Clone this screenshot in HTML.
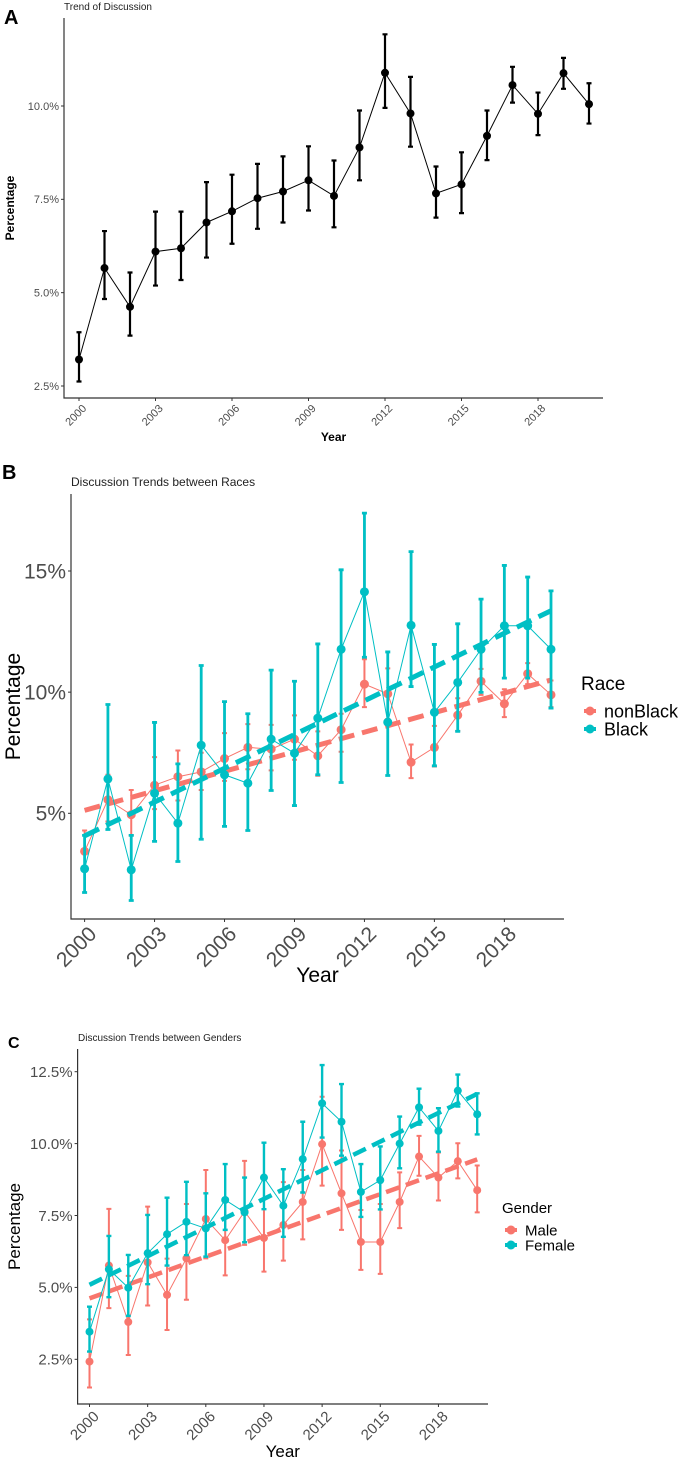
<!DOCTYPE html>
<html><head><meta charset="utf-8">
<style>
html,body{margin:0;padding:0;background:#fff;}
svg{display:block;font-family:"Liberation Sans",sans-serif;}
</style></head>
<body>
<svg id="chart" width="688" height="1459" viewBox="0 0 688 1459" xmlns="http://www.w3.org/2000/svg"></svg>
<script>
// ---------- Data ----------
const years = [2000,2001,2002,2003,2004,2005,2006,2007,2008,2009,2010,2011,2012,2013,2014,2015,2016,2017,2018,2019,2020];
const tickYears = [2000,2003,2006,2009,2012,2015,2018];

// Panel A
const allValues = [3.21,5.66,4.62,6.10,6.19,6.88,7.18,7.53,7.71,8.01,7.59,8.89,10.89,9.80,7.66,7.90,9.20,10.56,9.79,10.88,10.05];
const allUpper  = [3.94,6.65,5.54,7.17,7.17,7.96,8.16,8.45,8.65,8.92,8.54,9.88,11.92,10.78,8.38,8.76,9.88,11.05,10.36,11.29,10.61];
const allLower  = [2.62,4.83,3.85,5.19,5.34,5.94,6.31,6.71,6.88,7.20,6.75,8.01,9.95,8.91,7.01,7.13,8.55,10.09,9.22,10.46,9.53];
const aTicks = [2.5,5.0,7.5,10.0];
const aTickLabels = ["2.5%","5.0%","7.5%","10.0%"];

// Panel B
const nonBlackValues = [3.43,5.56,4.94,6.16,6.51,6.71,7.26,7.72,7.65,8.06,7.37,8.45,10.33,9.93,7.11,7.72,9.05,10.45,9.52,10.76,9.89];
const nonBlackUpper  = [4.29,6.59,5.96,7.32,7.59,7.50,8.31,8.68,8.65,9.04,8.38,9.11,11.36,10.98,7.84,8.61,9.75,10.96,10.12,11.20,10.48];
const nonBlackLower  = [2.67,4.66,4.09,5.17,5.53,5.96,6.34,6.82,6.77,7.21,6.55,7.54,9.38,8.89,6.45,6.93,8.40,9.89,8.97,10.33,9.38];
const blackValues = [2.71,6.42,2.67,5.83,4.59,7.81,6.59,6.24,8.06,7.48,8.93,11.77,14.14,8.76,12.76,9.17,10.40,11.77,12.74,12.74,11.77];
const blackUpper  = [4.09,9.49,4.09,8.75,7.04,11.10,9.61,9.11,10.91,10.45,11.99,15.05,17.39,11.66,15.80,11.97,12.82,13.84,15.23,14.75,14.18];
const blackLower  = [1.73,4.33,1.40,3.84,3.01,3.93,4.46,4.29,5.94,5.32,6.59,6.27,11.44,6.56,10.23,6.96,8.38,9.99,10.58,10.58,9.34];
const nonBlackTrend = [5.12,10.50];
const blackTrend = [4.07,13.36];
const bTicks = [5,10,15];
const bTickLabels = ["5%","10%","15%"];

// Panel C
const maleValues = [2.42,5.76,3.80,5.87,4.74,6.01,7.38,6.64,7.64,6.72,7.17,7.97,9.98,8.27,6.58,6.58,7.97,9.55,8.82,9.39,8.38];
const maleUpper  = [3.89,7.73,5.40,7.81,6.00,7.90,9.08,8.10,9.40,8.08,8.66,9.08,11.63,9.76,7.69,7.90,9.00,10.27,9.69,10.01,9.24];
const maleLower  = [1.52,4.28,2.65,4.37,3.52,4.57,6.01,5.42,6.48,5.55,5.93,6.67,8.54,7.00,5.61,5.47,7.06,8.88,8.02,8.79,7.61];
const femaleValues = [3.46,5.63,4.99,6.19,6.85,7.28,7.05,8.04,7.61,8.82,7.84,9.46,11.40,10.76,8.32,8.73,10.00,11.26,10.44,11.84,11.02];
const femaleUpper  = [4.33,6.79,6.13,7.52,8.12,8.67,8.27,9.29,8.82,10.03,9.11,10.76,12.73,12.07,9.29,9.90,10.94,11.91,11.23,12.40,11.75];
const femaleLower  = [2.77,4.66,4.01,5.11,5.76,6.12,6.07,7.00,6.57,7.72,6.76,8.30,10.21,9.58,7.45,7.71,9.14,10.66,9.72,11.29,10.32];
const maleTrend = [4.62,9.45];
const femaleTrend = [5.09,11.73];
const cTicks = [2.5,5.0,7.5,10.0,12.5];
const cTickLabels = ["2.5%","5.0%","7.5%","10.0%","12.5%"];

const RED = "#F8766D", TEAL = "#00BFC4";
const NS = "http://www.w3.org/2000/svg";
const svg = document.getElementById('chart');
function mk(tag, attrs, parent){
  const e = document.createElementNS(NS, tag);
  for (const k in attrs) e.setAttribute(k, attrs[k]);
  (parent||svg).appendChild(e);
  return e;
}
function scale(d0,d1,r0,r1){ return v => r0 + (v-d0)*(r1-r0)/(d1-d0); }

function drawPanel(p){
  const g = mk('g', {});
  
  
  const x = scale(2000, 2020, p.x0, p.x20);
  const y = scale(p.yv0, p.yv1, p.yp0, p.yp1);
  const L = mk('text', {x:p.letterX, y:p.letterY, 'font-size':p.letterSize, 'font-weight':'bold', fill:'#000'}, g);
  L.textContent = p.letter;
  
  
  const T = mk('text', {x:p.titleX, y:p.titleY, 'font-size':p.titleSize, fill:'#222'}, g);
  T.textContent = p.title;
  
  
  const ax = mk('path', {d:`M${p.left},${p.top}V${p.bottom}H${p.right}`, stroke:'#333', 'stroke-width':1.2, fill:'none'}, g);
  
  
  p.yTicks.forEach((v,i)=>{
    const yy = y(v);
    mk('line', {x1:p.left-3, x2:p.left, y1:yy, y2:yy, stroke:'#333', 'stroke-width':1}, g);
    const t = mk('text', {x:p.left-5, y:yy + p.tickSize*0.35, 'font-size':p.tickSize, fill:'#4d4d4d', 'text-anchor':'end'}, g);
    t.textContent = p.yLabels[i];
    
    
  });
  tickYears.forEach(yr=>{
    const xx = x(yr);
    mk('line', {x1:xx, x2:xx, y1:p.bottom, y2:p.bottom+3, stroke:'#333', 'stroke-width':1}, g);
    const ty = p.bottom + 6;
    const t = mk('text', {x:xx+3, y:ty, 'font-size':p.tickSize, fill:'#4d4d4d', 'text-anchor':'end',
      'dominant-baseline':'hanging', transform:`rotate(-45 ${xx+3} ${ty})`}, g);
    t.textContent = yr;
    
    
  });
  const xt = mk('text', {x:p.xTitleX || (p.left+p.right)/2, y:p.xTitleY, 'font-size':p.axisTitleSize, 'font-weight':p.axisBold?'bold':'normal', 'text-anchor':'middle', fill:'#000'}, g);
  xt.textContent = 'Year';
  
  
  const ycy = (p.top+p.bottom)/2;
  const yt = mk('text', {x:p.yTitleX, y:ycy, 'font-size':p.axisTitleSize, 'font-weight':p.axisBold?'bold':'normal', 'text-anchor':'middle', fill:'#000', transform:`rotate(-90 ${p.yTitleX} ${ycy})`}, g);
  yt.textContent = 'Percentage';
  
  
  p.series.forEach(s=>{
    const sg = mk('g', {}, g);
    
    
    const pts = s.values.map((v,i)=>`${x(years[i])},${y(v)}`).join(' ');
    const pl = mk('polyline', {points:pts, fill:'none', stroke:s.color, 'stroke-width':1}, sg);
    
    
    s.values.forEach((v,i)=>{
      const xx = x(years[i]);
      const eb = mk('path', {d:`M${xx-2.5},${y(s.upper[i])}H${xx+2.5}M${xx},${y(s.upper[i])}V${y(s.lower[i])}M${xx-2.5},${y(s.lower[i])}H${xx+2.5}`,
        stroke:s.color, 'stroke-width':s.ebw, fill:'none'}, sg);
      
      
    });
    s.values.forEach((v,i)=>{
      const c = mk('circle', {cx:x(years[i]), cy:y(v), r:s.r, fill:s.color}, sg);
      
      
    });
    if (s.trend){
      const tl = mk('line', {x1:x(2000), y1:y(s.trend[0]), x2:x(2020), y2:y(s.trend[1]), stroke:s.color, 'stroke-width':p.trendW, 'stroke-dasharray':p.dash}, sg);
      
      
    }
  });
  if (p.legend){
    const lg = mk('g', {}, g);
    
    
    const lt = mk('text', {x:p.legend.x, y:p.legend.y, 'font-size':p.legend.titleSize, fill:'#000'}, lg);
    lt.textContent = p.legend.title;
    
    
    p.series.forEach((s,i)=>{
      const ey = p.legend.y + p.legend.first + i*p.legend.step;
      const kx = p.legend.x + 9;
      const e = mk('g', {}, lg);
      
      
      mk('line', {x1:kx-6, x2:kx+6, y1:ey, y2:ey, stroke:s.color, 'stroke-width':4}, e);
      mk('circle', {cx:kx, cy:ey, r:4.5, fill:s.color}, e);
      const et = mk('text', {x:kx+14, y:ey + p.legend.labelSize*0.36, 'font-size':p.legend.labelSize, fill:'#000'}, e);
      et.textContent = s.label;
    });
  }
}

drawPanel({name:'panel-a-overall', letter:'A', letterX:4, letterY:24, letterSize:20,
  title:'Trend of Discussion', titleX:64, titleY:10, titleSize:10,
  left:64, top:18, bottom:398, right:603, x0:79, x20:589,
  yv0:2.5, yv1:10.0, yp0:386, yp1:106, yTicks:aTicks, yLabels:aTickLabels,
  tickSize:11, axisTitleSize:12, axisBold:true, xTitleY:441, yTitleX:14,
  series:[{key:'overall', label:'Overall', color:'#000', values:allValues, upper:allUpper, lower:allLower, r:4, ebw:2.2}]
});

drawPanel({name:'panel-b-race', letter:'B', letterX:2, letterY:479, letterSize:20,
  title:'Discussion Trends between Races', titleX:71, titleY:486, titleSize:12,
  left:71, top:494, bottom:919, right:564, x0:84.6, x20:551,
  yv0:5, yv1:15, yp0:813.3, yp1:571, yTicks:bTicks, yLabels:bTickLabels,
  tickSize:21, axisTitleSize:21, axisBold:false, xTitleY:982, yTitleX:20,
  trendW:5, dash:'16,8',
  series:[
    {key:'nonblack', label:'nonBlack', color:RED, values:nonBlackValues, upper:nonBlackUpper, lower:nonBlackLower, r:4.5, ebw:2, trend:nonBlackTrend},
    {key:'black', label:'Black', color:TEAL, values:blackValues, upper:blackUpper, lower:blackLower, r:4.5, ebw:2.8, trend:blackTrend}
  ],
  legend:{x:581, y:690, title:'Race', titleSize:19, first:21, step:18, labelSize:18}
});

drawPanel({name:'panel-c-gender', letter:'C', letterX:8, letterY:1048, letterSize:16,
  title:'Discussion Trends between Genders', titleX:78, titleY:1041, titleSize:10,
  left:77.6, top:1049, bottom:1404, right:488, x0:89.5, x20:477.2,
  yv0:2.5, yv1:12.5, yp0:1359.3, yp1:1071.7, yTicks:cTicks, yLabels:cTickLabels,
  tickSize:15, axisTitleSize:17, axisBold:false, xTitleY:1457, yTitleX:20,
  trendW:4.5, dash:'14,7',
  series:[
    {key:'male', label:'Male', color:RED, values:maleValues, upper:maleUpper, lower:maleLower, r:4, ebw:2, trend:maleTrend},
    {key:'female', label:'Female', color:TEAL, values:femaleValues, upper:femaleUpper, lower:femaleLower, r:4, ebw:2.4, trend:femaleTrend}
  ],
  legend:{x:502, y:1213, title:'Gender', titleSize:15, first:17, step:15, labelSize:15}
});
</script>
</body></html>
